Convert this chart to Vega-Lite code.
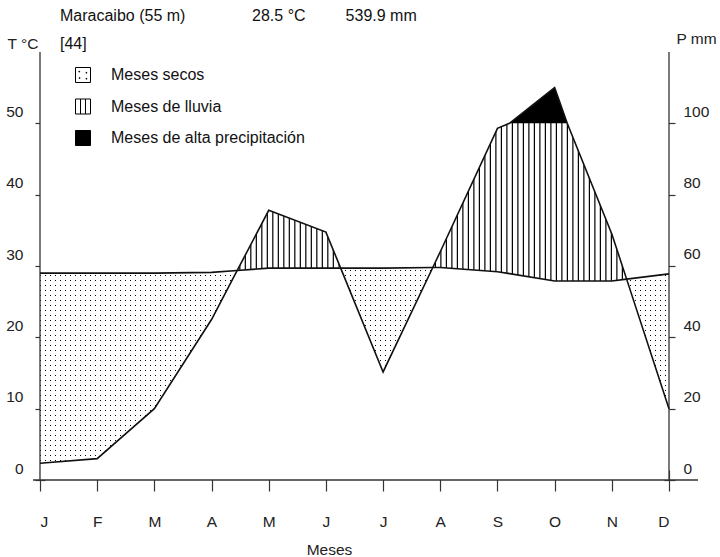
{
  "$schema": "https://vega.github.io/schema/vega-lite/v6.json",
  "width": 629,
  "height": 428,
  "autosize": {"type": "none"},
  "padding": {"left": 40, "top": 52, "right": 51, "bottom": 77},
  "background": "white",
  "title": {
    "text": ["Maracaibo (55 m)\u00a0\u00a0\u00a0\u00a0\u00a0\u00a0\u00a0\u00a0\u00a0\u00a0\u00a0\u00a0\u00a0\u00a0\u00a028.5 °C\u00a0\u00a0\u00a0\u00a0\u00a0\u00a0\u00a0\u00a0\u00a0539.9 mm", "[44]"],
    "anchor": "start",
    "frame": "group",
    "dx": 20,
    "offset": -21,
    "fontSize": 16,
    "fontWeight": "normal",
    "font": "Liberation Sans",
    "color": "#111",
    "lineHeight": 28.5
  },
  "data": {
    "name": "clima",
    "values": [
      {"x": 0, "t": 29.0, "p": 4.7},
      {"x": 1, "t": 29.0, "p": 6.0},
      {"x": 2, "t": 29.0, "p": 20.0},
      {"x": 3, "t": 29.1, "p": 45.0},
      {"x": 3.449, "t": 29.37, "p": 58.74, "lluvia": "l1"},
      {"x": 4, "t": 29.7, "p": 75.6, "lluvia": "l1"},
      {"x": 5, "t": 29.7, "p": 69.5, "lluvia": "l1"},
      {"x": 5.258, "t": 29.7, "p": 59.4, "lluvia": "l1"},
      {"x": 6, "t": 29.7, "p": 30.3},
      {"x": 6.869, "t": 29.79, "p": 59.58, "lluvia": "l2"},
      {"x": 7, "t": 29.8, "p": 64.0, "lluvia": "l2"},
      {"x": 8, "t": 29.2, "p": 98.6, "lluvia": "l2"},
      {"x": 8.21, "t": 28.93, "p": 100, "lluvia": "l2"},
      {"x": 9, "t": 27.9, "p": 200, "lluvia": "l2"},
      {"x": 9.22, "t": 27.9, "p": 100, "lluvia": "l2"},
      {"x": 10, "t": 27.9, "p": 69.0, "lluvia": "l2"},
      {"x": 10.259, "t": 28.16, "p": 56.32, "lluvia": "l2"},
      {"x": 11, "t": 28.9, "p": 20.0}
    ]
  },
  "layer": [
    {
      "data": {"values": [{}]},
      "mark": {"type": "rule", "stroke": "#000", "strokeWidth": 230, "strokeDash": [1, 4], "clip": true},
      "encoding": {
        "x": {"datum": 0, "type": "quantitative", "scale": {"domain": [0, 11], "nice": false, "zero": false}, "title": "Meses"},
        "x2": {"datum": 11},
        "y": {"datum": 15, "type": "quantitative", "scale": {"domain": [0, 60], "nice": false, "zero": false}, "axis": null}
      }
    },
    {
      "data": {"values": [{}]},
      "mark": {"type": "rule", "stroke": "#fff", "strokeWidth": 640, "strokeDash": [4, 1], "clip": true},
      "encoding": {
        "x": {"datum": 5.5, "type": "quantitative", "scale": {"domain": [0, 11], "nice": false, "zero": false}, "title": "Meses"},
        "y": {"datum": 0, "type": "quantitative", "scale": {"domain": [0, 60], "nice": false, "zero": false}, "axis": null},
        "y2": {"datum": 60}
      }
    },
    {
      "mark": {"type": "area", "fill": "#fff"},
      "encoding": {
        "x": {"field": "x", "type": "quantitative", "scale": {"domain": [0, 11], "nice": false, "zero": false}, "title": "Meses"},
        "y": {"field": "t", "type": "quantitative", "scale": {"domain": [0, 60], "nice": false, "zero": false}, "axis": null},
        "y2": {"datum": 60}
      }
    },
    {
      "mark": {"type": "area", "fill": "#fff"},
      "encoding": {
        "x": {"field": "x", "type": "quantitative", "scale": {"domain": [0, 11], "nice": false, "zero": false}, "title": "Meses"},
        "y": {"field": "p", "type": "quantitative", "scale": {"domain": [0, 100, 300], "range": [428, 71.333, 0], "nice": false, "zero": false}, "axis": null},
        "y2": {"datum": 0}
      }
    },
    {
      "transform": [{"filter": "isValid(datum.lluvia)"}],
      "mark": {"type": "rule", "stroke": "#000", "strokeWidth": 300, "strokeDash": [1.2, 4.3], "clip": true, "xOffset": 2, "x2Offset": -2},
      "encoding": {
        "x": {"aggregate": "min", "field": "x", "type": "quantitative", "scale": {"domain": [0, 11], "nice": false, "zero": false}, "title": "Meses"},
        "x2": {"aggregate": "max", "field": "x"},
        "y": {"datum": 40, "type": "quantitative", "scale": {"domain": [0, 60], "nice": false, "zero": false}, "axis": null},
        "detail": {"field": "lluvia", "type": "nominal"}
      }
    },
    {
      "transform": [{"filter": "isValid(datum.lluvia)"}],
      "mark": {"type": "area", "fill": "#fff"},
      "encoding": {
        "x": {"field": "x", "type": "quantitative", "scale": {"domain": [0, 11], "nice": false, "zero": false}, "title": "Meses"},
        "y": {"field": "p", "type": "quantitative", "scale": {"domain": [0, 100, 300], "range": [428, 71.333, 0], "nice": false, "zero": false}, "axis": null},
        "y2": {"datum": 300},
        "detail": {"field": "lluvia", "type": "nominal"}
      }
    },
    {
      "transform": [{"filter": "isValid(datum.lluvia)"}],
      "mark": {"type": "area", "fill": "#fff"},
      "encoding": {
        "x": {"field": "x", "type": "quantitative", "scale": {"domain": [0, 11], "nice": false, "zero": false}, "title": "Meses"},
        "y": {"field": "t", "type": "quantitative", "scale": {"domain": [0, 60], "nice": false, "zero": false}, "axis": null},
        "y2": {"datum": 0},
        "detail": {"field": "lluvia", "type": "nominal"}
      }
    },
    {
      "transform": [{"filter": "datum.p >= 100"}],
      "mark": {"type": "area", "fill": "#000"},
      "encoding": {
        "x": {"field": "x", "type": "quantitative", "scale": {"domain": [0, 11], "nice": false, "zero": false}, "title": "Meses"},
        "y": {"field": "p", "type": "quantitative", "scale": {"domain": [0, 100, 300], "range": [428, 71.333, 0], "nice": false, "zero": false}, "axis": null},
        "y2": {"datum": 100}
      }
    },
    {
      "data": {"values": [{}]},
      "mark": {"type": "rule", "stroke": "#333", "strokeWidth": 1.3},
      "encoding": {
        "x": {"datum": -0.1224, "type": "quantitative", "scale": {"domain": [0, 11], "nice": false, "zero": false}, "title": "Meses"},
        "x2": {"datum": 11.507},
        "y": {"datum": 0, "type": "quantitative", "scale": {"domain": [0, 60], "nice": false, "zero": false}, "axis": null}
      }
    },
    {
      "data": {"values": [{"borde": 0}, {"borde": 11}]},
      "mark": {"type": "rule", "stroke": "#333", "strokeWidth": 1.3},
      "encoding": {
        "x": {"field": "borde", "type": "quantitative", "scale": {"domain": [0, 11], "nice": false, "zero": false}, "title": "Meses"},
        "y": {"datum": 0, "type": "quantitative", "scale": {"domain": [0, 60], "nice": false, "zero": false}, "axis": null},
        "y2": {"datum": 60}
      }
    },
    {
      "mark": {"type": "line", "stroke": "#111", "strokeWidth": 1.6},
      "encoding": {
        "x": {
          "field": "x", "type": "quantitative",
          "scale": {"domain": [0, 11], "nice": false, "zero": false},
          "title": "Meses",
          "axis": {
            "values": [0, 1, 2, 3, 4, 5, 6, 7, 8, 9, 10, 11],
            "labelExpr": "['J','F','M','A','M','J','J','A','S','O','N','D'][datum.value]",
            "offset": -10,
            "tickSize": 21,
            "domain": false,
            "labelPadding": 23,
            "labelBaseline": "top",
            "title": "Meses",
            "titleX": 289,
            "titleY": 79,
            "titleAlign": "center",
            "titleBaseline": "middle"
          }
        },
        "y": {
          "field": "t", "type": "quantitative",
          "scale": {"domain": [0, 60], "nice": false, "zero": false},
          "axis": {
            "orient": "left",
            "offset": -5,
            "values": [0, 10, 20, 30, 40, 50],
            "tickSize": 10,
            "domain": false,
            "labelPadding": 12,
            "labelOffset": -12,
            "labelBaseline": "middle",
            "title": "T °C",
            "titleAngle": 0,
            "titleX": -7,
            "titleY": -9,
            "titleAlign": "right",
            "titleBaseline": "middle"
          }
        }
      }
    },
    {
      "mark": {"type": "line", "stroke": "#111", "strokeWidth": 1.6},
      "encoding": {
        "x": {"field": "x", "type": "quantitative", "scale": {"domain": [0, 11], "nice": false, "zero": false}, "title": "Meses"},
        "y": {
          "field": "p", "type": "quantitative",
          "scale": {"domain": [0, 100, 300], "range": [428, 71.333, 0], "nice": false, "zero": false},
          "axis": {
            "orient": "right",
            "offset": -5,
            "values": [0, 20, 40, 60, 80, 100],
            "tickSize": 11,
            "domain": false,
            "labelPadding": 8,
            "labelOffset": -12,
            "labelBaseline": "middle",
            "title": "P mm",
            "titleAngle": 0,
            "titleX": 12,
            "titleY": -14,
            "titleAlign": "left",
            "titleBaseline": "middle"
          }
        }
      }
    },
    {
      "data": {"values": [
        {"clase": "Meses secos"},
        {"clase": "Meses de lluvia"},
        {"clase": "Meses de alta precipitación"}
      ]},
      "mark": {"type": "point", "filled": true, "opacity": 0, "stroke": "#000"},
      "encoding": {
        "fill": {
          "field": "clase", "type": "nominal",
          "scale": {
            "domain": ["Meses secos", "Meses de lluvia", "Meses de alta precipitación"],
            "range": ["#fff", "#fff", "#000"]
          },
          "legend": {
            "title": null,
            "orient": "none",
            "legendX": 35,
            "legendY": 15,
            "padding": 0,
            "symbolSize": 225,
            "symbolStrokeWidth": 1,
            "symbolStrokeColor": "#000",
            "symbolOpacity": 1,
            "labelFont": "Liberation Sans",
            "labelFontSize": 16,
            "labelColor": "#111",
            "labelOffset": 20,
            "labelLimit": 400,
            "rowPadding": 11.5,
            "encode": {"symbols": {"update": {"opacity": {"value": 1}}}}
          }
        },
        "shape": {
          "field": "clase", "type": "nominal",
          "scale": {
            "domain": ["Meses secos", "Meses de lluvia", "Meses de alta precipitación"],
            "range": [
              "M-1,-1H1V1H-1Z M-0.55,-0.5h0.1v0.1h-0.1Z M0.4,-0.35h0.1v0.1h-0.1Z M-0.5,0.35h0.1v0.1h-0.1Z M0.4,0.45h0.1v0.1h-0.1Z",
              "M-1,-1H1V1H-1Z M-0.33,-1V1 M0.33,-1V1",
              "M-1,-1H1V1H-1Z"
            ]
          }
        }
      }
    }
  ],
  "resolve": {"scale": {"y": "independent"}, "axis": {"y": "independent"}},
  "config": {
    "view": {"stroke": null},
    "font": "Liberation Sans",
    "axis": {
      "labelFont": "Liberation Sans",
      "titleFont": "Liberation Sans",
      "labelFontSize": 15.5,
      "titleFontSize": 15.5,
      "titleFontWeight": "normal",
      "labelColor": "#222",
      "titleColor": "#222",
      "tickColor": "#333",
      "tickWidth": 1.2,
      "grid": false
    }
  }
}
